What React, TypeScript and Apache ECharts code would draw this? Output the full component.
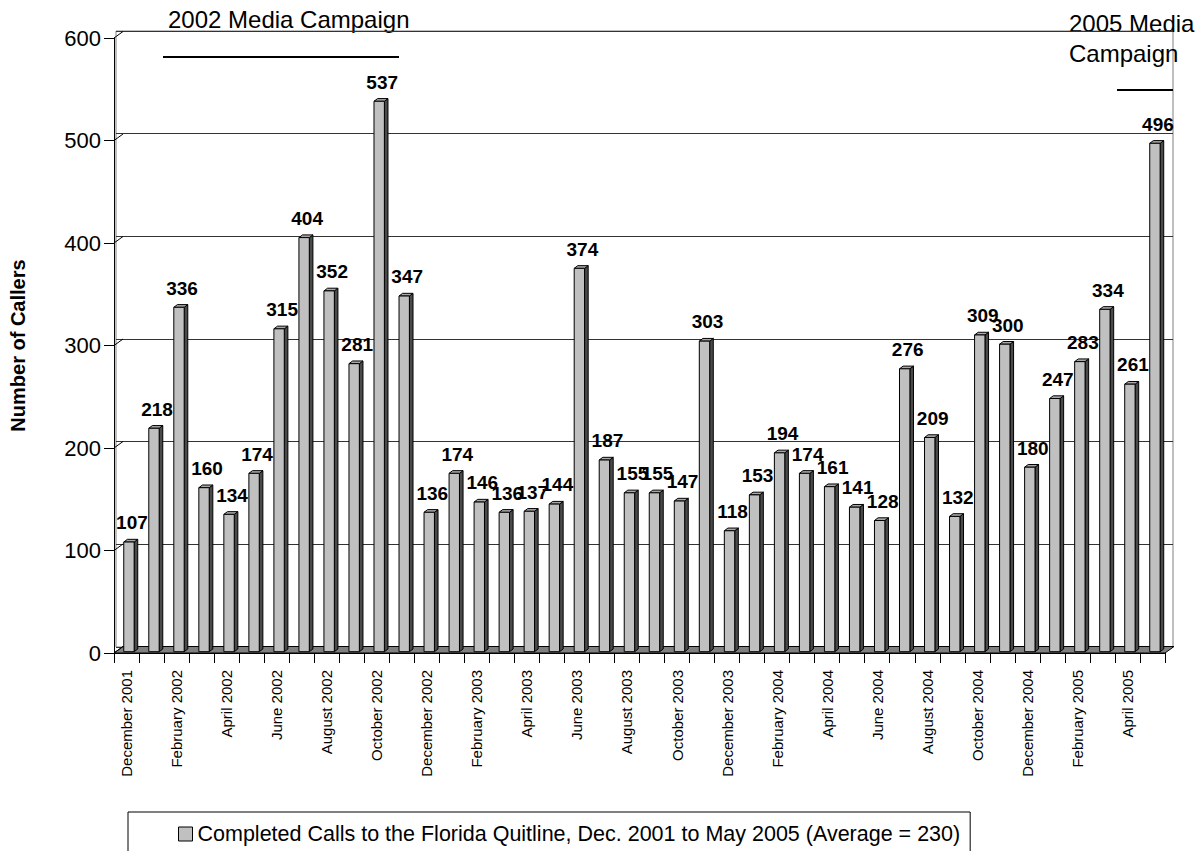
import React, { useEffect, useRef } from "react";
import * as echarts from "echarts";

const months = [
  "December 2001", "January 2002", "February 2002", "March 2002", "April 2002", "May 2002",
  "June 2002", "July 2002", "August 2002", "September 2002", "October 2002", "November 2002",
  "December 2002", "January 2003", "February 2003", "March 2003", "April 2003", "May 2003",
  "June 2003", "July 2003", "August 2003", "September 2003", "October 2003", "November 2003",
  "December 2003", "January 2004", "February 2004", "March 2004", "April 2004", "May 2004",
  "June 2004", "July 2004", "August 2004", "September 2004", "October 2004", "November 2004",
  "December 2004", "January 2005", "February 2005", "March 2005", "April 2005", "May 2005",
];

const calls = [
  107, 218, 336, 160, 134, 174, 315, 404, 352, 281, 537, 347,
  136, 174, 146, 136, 137, 144, 374, 187, 155, 155, 147, 303,
  118, 153, 194, 174, 161, 141, 128, 276, 209, 132, 309, 300,
  180, 247, 283, 334, 261, 496,
];

const yTicks = [0, 100, 200, 300, 400, 500, 600];

const seriesName =
  "Completed Calls to the Florida Quitline, Dec. 2001 to May 2005 (Average = 230)";

const FONT = '"Liberation Sans", Arial, sans-serif';
const DX = 9;
const DY = -6.5;

export default function App() {
  const ref = useRef<HTMLDivElement>(null);

  useEffect(() => {
    document.body.style.margin = "0";
    document.body.style.overflow = "hidden";
    const chart = echarts.init(ref.current!, null, { renderer: "svg" });

    const option: any = {
      animation: false,
      backgroundColor: "#ffffff",
      textStyle: { fontFamily: FONT, color: "#000" },
      grid: [
        { left: 107, right: 38, top: 38, bottom: 198, containLabel: false },
        {
          left: 116, right: 30, top: 31, bottom: 204, containLabel: false,
          show: true, borderColor: "#808080", borderWidth: 1, backgroundColor: "transparent",
        },
      ],
      xAxis: [
        {
          type: "category",
          gridIndex: 0,
          data: months,
          boundaryGap: true,
          axisLine: { show: true, lineStyle: { color: "#000", width: 1 } },
          axisTick: { show: true, interval: 0, length: 10, lineStyle: { color: "#000" } },
          axisLabel: {
            interval: 1, rotate: 90, fontSize: 15, color: "#000", margin: 17, fontFamily: FONT,
          },
          splitLine: { show: false },
          z: 5,
        },
        {
          type: "category",
          gridIndex: 1,
          data: months,
          show: false,
        },
      ],
      yAxis: [
        {
          type: "value",
          gridIndex: 0,
          min: 0,
          max: 600,
          interval: 100,
          name: "Number of Callers",
          nameLocation: "middle",
          nameRotate: 90,
          nameGap: 86,
          nameTextStyle: { fontSize: 20, fontWeight: "bold", color: "#000", fontFamily: FONT },
          axisLine: { show: true, lineStyle: { color: "#000", width: 1 } },
          axisTick: { show: true, length: 10, lineStyle: { color: "#000" } },
          axisLabel: { fontSize: 22, color: "#000", margin: 13, fontFamily: FONT },
          splitLine: { show: false },
          z: 5,
        },
        {
          type: "value",
          gridIndex: 1,
          min: 0,
          max: 600,
          interval: 100,
          axisLine: { show: false },
          axisTick: { show: false },
          axisLabel: { show: false },
          splitLine: { show: true, lineStyle: { color: "#333333", width: 1 } },
        },
      ],
      legend: {
        show: true,
        left: 128,
        top: 812,
        padding: [11, 10, 11, 50],
        borderColor: "#000",
        borderWidth: 1,
        itemWidth: 14,
        itemHeight: 14,
        textStyle: { fontSize: 21.5, color: "#000", fontFamily: FONT },
        data: [
          {
            name: seriesName,
            icon: "rect",
            itemStyle: { color: "#c0c0c0", borderColor: "#000", borderWidth: 1 },
          },
        ],
      },
      graphic: [
        {
          type: "text",
          left: 168,
          top: 7,
          style: { text: "2002 Media Campaign", font: `24px ${FONT}`, fill: "#000" },
        },
        {
          type: "line",
          shape: { x1: 163, y1: 57, x2: 399, y2: 57 },
          style: { stroke: "#000", lineWidth: 2 },
        },
        {
          type: "text",
          left: 1069,
          top: 8,
          style: {
            text: "2005 Media\nCampaign", font: `24px ${FONT}`, fill: "#000", lineHeight: 30,
          },
        },
        {
          type: "line",
          shape: { x1: 1117, y1: 90, x2: 1173, y2: 90 },
          style: { stroke: "#000", lineWidth: 2 },
        },
      ],
      series: [
        {
          type: "custom",
          name: "decor",
          xAxisIndex: 0,
          yAxisIndex: 0,
          silent: true,
          z: 1,
          data: yTicks.map((t) => [0, t]),
          renderItem: (params: any, api: any) => {
            const v = api.value(1);
            const p = api.coord([0, v]);
            const w = api.size([1, 0])[0];
            const x0 = p[0] - w / 2;
            const children: any[] = [
              {
                type: "line",
                shape: { x1: x0, y1: p[1], x2: x0 + DX, y2: p[1] + DY },
                style: { stroke: "#000", lineWidth: 1 },
              },
            ];
            if (v === 0) {
              const x1 = x0 + w * months.length;
              children.unshift({
                type: "polygon",
                shape: {
                  points: [
                    [x0, p[1]], [x1, p[1]], [x1 + DX, p[1] + DY], [x0 + DX, p[1] + DY],
                  ],
                },
                style: { fill: "#808080", stroke: "#000", lineWidth: 1 },
              });
            }
            return { type: "group", children };
          },
        },
        {
          type: "custom",
          name: seriesName,
          xAxisIndex: 0,
          yAxisIndex: 0,
          z: 3,
          itemStyle: { color: "#c0c0c0", borderColor: "#000" },
          data: calls.map((v, i) => [i, v]),
          renderItem: (params: any, api: any) => {
            const i = api.value(0);
            const v = api.value(1);
            const top = api.coord([i, v]);
            const base = api.coord([i, 0]);
            const w = api.size([1, 0])[0];
            const fw = w * 0.415;
            const fx = top[0] - w * 0.11;
            const dyF = -1.3;
            const yT = top[1] + dyF;
            const yB = base[1] + dyF;
            const sx = 3.6;
            const sy = -2.7;
            return {
              type: "group",
              children: [
                {
                  type: "polygon",
                  shape: {
                    points: [
                      [fx + fw, yT], [fx + fw + sx, yT + sy], [fx + fw + sx, yB + sy], [fx + fw, yB],
                    ],
                  },
                  style: { fill: "#4a4a4a", stroke: "#000", lineWidth: 1 },
                },
                {
                  type: "polygon",
                  shape: {
                    points: [
                      [fx, yT], [fx + sx, yT + sy], [fx + fw + sx, yT + sy], [fx + fw, yT],
                    ],
                  },
                  style: { fill: "#a8a8a8", stroke: "#000", lineWidth: 1 },
                },
                {
                  type: "rect",
                  shape: { x: fx, y: yT, width: fw, height: yB - yT },
                  style: { fill: "#c0c0c0", stroke: "#000", lineWidth: 1 },
                },
                {
                  type: "text",
                  x: fx + fw / 2 + 3,
                  y: yT + sy - 7,
                  style: {
                    text: String(v),
                    font: `bold 19px ${FONT}`,
                    fill: "#000",
                    align: "center",
                    verticalAlign: "bottom",
                  },
                },
              ],
            };
          },
        },
      ],
    };

    chart.setOption(option);
    return () => {
      chart.dispose();
    };
  }, []);

  return <div ref={ref} style={{ width: 1203, height: 851 }} />;
}
